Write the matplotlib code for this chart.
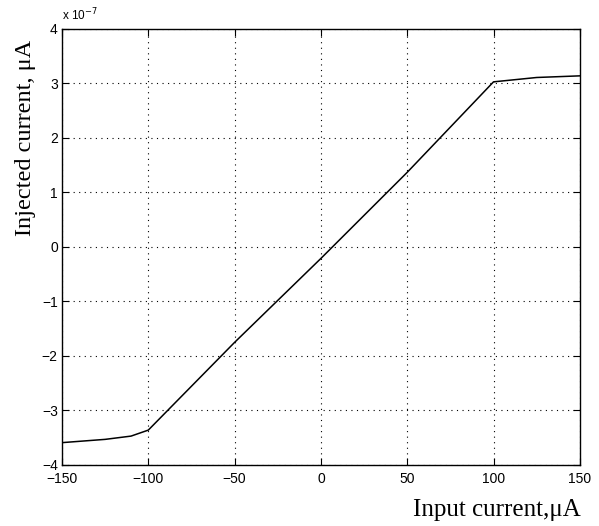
import matplotlib
matplotlib.use("Agg")
import matplotlib.pyplot as plt

# Data (injected current in units of 1e-7)
input_current = [-150, -125, -110, -100, -50, 0, 50, 75, 100, 125, 150]
injected_current = [-3.59, -3.53, -3.47, -3.36, -1.75, -0.21, 1.37, 2.20, 3.03, 3.11, 3.14]

x_ticks = [-150, -100, -50, 0, 50, 100, 150]
y_ticks = [-4, -3, -2, -1, 0, 1, 2, 3, 4]

fig = plt.figure(figsize=(5.99, 5.26), dpi=100)
ax = fig.add_axes([0.1035, 0.116, 0.8645, 0.8289])

ax.plot(input_current, injected_current, color="black", linewidth=1.1)

ax.set_xlim(-150, 150)
ax.set_ylim(-4, 4)
ax.set_xticks(x_ticks)
ax.set_yticks(y_ticks)
ax.set_xticklabels([str(v).replace("-", "\u2212") for v in x_ticks], fontsize=10, family="Liberation Sans")
ax.set_yticklabels([str(v).replace("-", "\u2212") for v in y_ticks], fontsize=10, family="Liberation Sans")
ax.tick_params(axis="both", direction="in", top=True, right=True, length=5, width=0.8)
ax.tick_params(axis="x", pad=5)
ax.tick_params(axis="y", pad=3)
ax.grid(True, linestyle=(0, (1, 4)), color="black", linewidth=0.8)
for s in ax.spines.values():
    s.set_linewidth(1.0)

ax.text(0.0, 1.012, "x 10$^{-7}$", transform=ax.transAxes, fontsize=8.5,
        family="Liberation Sans", ha="left", va="bottom")

fig.text(0.0434, 0.7376, "Injected current, \u03bcA", family="Liberation Serif", fontsize=17.5,
         rotation=90, ha="center", va="center")
fig.text(0.970, 0.019, "Input current,\u03bcA", family="Liberation Serif", fontsize=18,
         ha="right", va="baseline")

fig.savefig("out.png", dpi=100)
